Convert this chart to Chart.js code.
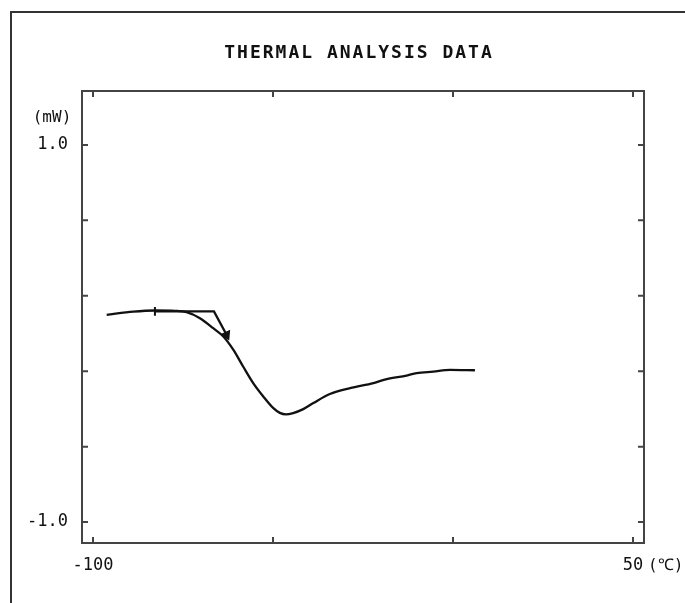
<!DOCTYPE html>
<html>
<head>
<meta charset="utf-8">
<script src="https://cdn.jsdelivr.net/npm/chart.js@4.4.1/dist/chart.umd.min.js"></script>
<style>
  html, body { margin: 0; padding: 0; background: #fff; }
  canvas { display: block; }
</style>
</head>
<body>
<canvas id="dscChart" width="685" height="603"></canvas>
<script>
// Curve (temperature in degC, heat flow in mW)
const temps = [-96.2, -88.8, -82.8, -77.2, -74.0, -70.3, -66.6, -63.8, -61.0, -58.3, -55.5,
    -52.7, -49.9, -48.1, -46.4, -44.4, -41.6, -38.8, -34.2, -28.6, -22.1, -18.4, -12.9,
    -10.1, -5.5, -0.8, 6.1];
const power = [0.099, 0.116, 0.122, 0.120, 0.113, 0.081, 0.028, -0.016, -0.087, -0.175, -0.263,
    -0.334, -0.396, -0.421, -0.429, -0.422, -0.401, -0.369, -0.321, -0.290, -0.263, -0.242, -0.223,
    -0.210, -0.202, -0.193, -0.195];

// Extrapolated baseline / onset construction
const baseTemps = [-82.8, -66.4, -62.9];
const basePower = [0.117, 0.117, -0.007];

// Small vertical marker on the curve
const markTemps = [-82.8, -82.8];
const markPower = [0.141, 0.094];

// Axes
const xTicks = [-100, -50, 0, 50];
const xLabels = ['-100', '', '', '50'];
const yTicks = [1.0, 0.6, 0.2, -0.2, -0.6, -1.0];
const yLabels = ['1.0', '', '', '', '', '-1.0'];

const tickFont = { family: '"DejaVu Sans Mono", monospace', size: 17 };
const ink = '#111';

function toPoints(xs, ys) {
    return xs.map((x, i) => ({ x: x, y: ys[i] }));
}

// Frame, inward ticks, outer border and loose texts
const decorations = {
    id: 'decorations',
    afterDraw(chart) {
        const ctx = chart.ctx;
        const area = chart.chartArea;
        const xs = chart.scales.x;
        const ys = chart.scales.y;
        ctx.save();

        // outer border of the page
        ctx.strokeStyle = '#333';
        ctx.lineWidth = 2;
        ctx.strokeRect(11, 12, 720, 640);

        // plot frame
        ctx.strokeStyle = '#444';
        ctx.lineWidth = 2;
        ctx.strokeRect(area.left, area.top, area.right - area.left, area.bottom - area.top);

        // inward tick marks on all four sides
        const len = 6;
        ctx.beginPath();
        xTicks.forEach(v => {
            const px = xs.getPixelForValue(v);
            ctx.moveTo(px, area.bottom);
            ctx.lineTo(px, area.bottom - len);
            ctx.moveTo(px, area.top);
            ctx.lineTo(px, area.top + len);
        });
        yTicks.forEach(v => {
            const py = ys.getPixelForValue(v);
            ctx.moveTo(area.left, py);
            ctx.lineTo(area.left + len, py);
            ctx.moveTo(area.right, py);
            ctx.lineTo(area.right - len, py);
        });
        ctx.stroke();

        // title
        ctx.fillStyle = ink;
        ctx.font = 'bold 18px "DejaVu Sans Mono", monospace';
        ctx.letterSpacing = '2px';
        ctx.textAlign = 'center';
        ctx.textBaseline = 'middle';
        ctx.fillText('THERMAL ANALYSIS DATA', 359, 53);
        ctx.letterSpacing = '0px';

        // unit labels
        ctx.font = '16px "DejaVu Sans Mono", monospace';
        ctx.textAlign = 'center';
        ctx.fillText('(mW)', 52, 118);
        ctx.textAlign = 'left';
        ctx.fillText('(℃)', 648, 566);
        ctx.restore();
    }
};

const ctx = document.getElementById('dscChart').getContext('2d');
const dscChart = new Chart(ctx, {
    type: 'line',
    data: {
        datasets: [
            {
                label: 'DSC',
                data: toPoints(temps, power),
                borderColor: ink,
                borderWidth: 2.3,
                pointRadius: 0,
                cubicInterpolationMode: 'monotone',
                fill: false
            },
            {
                label: 'Baseline',
                data: toPoints(baseTemps, basePower),
                borderColor: ink,
                borderWidth: 2.3,
                pointRadius: [0, 0, 4],
                pointStyle: 'triangle',
                pointRotation: 155,
                pointBackgroundColor: ink,
                pointBorderColor: ink,
                tension: 0,
                fill: false
            },
            {
                label: 'Marker',
                data: toPoints(markTemps, markPower),
                borderColor: ink,
                borderWidth: 2,
                pointRadius: 0,
                tension: 0,
                fill: false
            }
        ]
    },
    options: {
        responsive: false,
        animation: false,
        layout: { padding: { top: 91, right: 41, left: 0, bottom: 0 } },
        plugins: {
            legend: { display: false },
            tooltip: { enabled: false },
            title: { display: false }
        },
        scales: {
            x: {
                type: 'linear',
                min: -103.06,
                max: 53.06,
                afterBuildTicks: s => { s.ticks = xTicks.map(v => ({ value: v })); },
                afterFit: s => { s.height = 60; },
                grid: { display: false, drawTicks: false },
                border: { display: false },
                ticks: {
                    autoSkip: false,
                    maxRotation: 0,
                    padding: 12,
                    color: ink,
                    font: tickFont,
                    callback: v => xLabels[xTicks.indexOf(v)] ?? ''
                }
            },
            y: {
                type: 'linear',
                min: -1.111,
                max: 1.286,
                afterBuildTicks: s => { s.ticks = yTicks.map(v => ({ value: v })); },
                afterFit: s => { s.width = 82; },
                grid: { display: false, drawTicks: false },
                border: { display: false },
                ticks: {
                    autoSkip: false,
                    padding: 14,
                    color: ink,
                    font: tickFont,
                    callback: v => {
                        const i = yTicks.findIndex(t => Math.abs(t - v) < 1e-6);
                        return i >= 0 ? yLabels[i] : '';
                    }
                }
            }
        }
    },
    plugins: [decorations]
});
</script>
</body>
</html>
